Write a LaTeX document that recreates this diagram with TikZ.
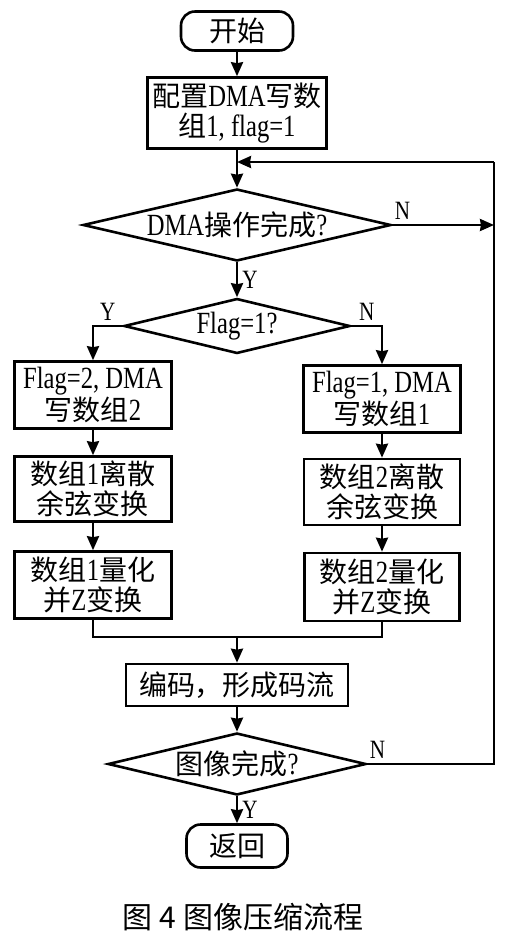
\documentclass[tikz,border=0pt]{standalone}
\usepackage{fontspec}
\setmainfont{Liberation Serif}[FakeStretch=0.8,Scale=1.1]
\newfontfamily\cjk{Noto Sans CJK SC}
\newcommand{\zh}[1]{{\cjk #1}}
\usetikzlibrary{shapes.geometric,math,arrows.meta}

\begin{document}
\begin{tikzpicture}
[x=0.5pt,y=-0.5pt,>={Stealth[length=7pt,width=6pt,inset=0.5pt]},line width=1.3pt,
font=\fontsize{14}{15}\selectfont,
box/.style={draw,rectangle,inner sep=1pt,align=center},
term/.style={draw,rectangle,rounded corners=7pt,inner sep=1pt},
test/.style={draw,diamond,inner sep=0pt},
yn/.style={font=\fontsize{12}{14}\selectfont,inner sep=2pt},]

\useasboundingbox (0,0) rectangle (511,944);

%Column positions: main, left branch, right branch, loop line
\tikzmath{\xm=237; \xl=93; \xr=382; \xo=494; }
%
%Main column
\node (start) at (\xm,31)[term,minimum width=56pt,minimum height=19.5pt] {\zh{开始}};
\node (cfg) at (\xm,113)[box,minimum width=89.5pt,minimum height=35.5pt] {\zh{配置}DMA\zh{写数}\\\zh{组}1, flag=1};
\node (dma) at (\xm,225)[test,aspect=4.28,minimum width=154pt,minimum height=36pt] {DMA\zh{操作完成}?};
\node (flag) at (\xm,326)[test,aspect=4.1,minimum width=113pt,minimum height=27.5pt] {Flag=1?};

%Left branch
\node (a1) at (\xl,395)[box,minimum width=78.5pt,minimum height=33.5pt] {Flag=2, DMA\\\zh{写数组}2};
\node (a2) at (\xl,489)[box,minimum width=78.5pt,minimum height=32.5pt] {\zh{数组}1\zh{离散}\\\zh{余弦变换}};
\node (a3) at (\xl,585)[box,minimum width=78.5pt,minimum height=33.5pt] {\zh{数组}1\zh{量化}\\\zh{并}Z\zh{变换}};

%Right branch
\node (b1) at (\xr,399)[box,minimum width=78.5pt,minimum height=33.5pt] {Flag=1, DMA\\\zh{写数组}1};
\node (b2) at (\xr,492)[box,minimum width=78pt,minimum height=33pt] {\zh{数组}2\zh{离散}\\\zh{余弦变换}};
\node (b3) at (\xr,587)[box,minimum width=77.5pt,minimum height=34pt] {\zh{数组}2\zh{量化}\\\zh{并}Z\zh{变换}};

%Bottom part
\node (enc) at (\xm,685)[box,minimum width=111pt,minimum height=21pt] {\zh{编码，形成码流}};
\node (img) at (\xm,764)[test,aspect=4.16,minimum width=129pt,minimum height=31pt] {\zh{图像完成}?};
\node (ret) at (\xm,846)[term,minimum width=50.5pt,minimum height=21.5pt] {\zh{返回}};
\node (cap) at (243,917)[font=\cjk\fontsize{15}{17}\selectfont] {图 4 图像压缩流程};

%Corner points
\coordinate (join) at (\xm,162);
\coordinate (merge) at (\xm,637);
\coordinate (ml) at (\xl,637);
\coordinate (mr) at (\xr,637);
\coordinate (lt) at (\xo,162);
\coordinate (lm) at (\xo,225);
\coordinate (lb) at (\xo,764);

%Connectors
\draw[->] (start) -- (cfg);
\draw[->] (cfg) -- (dma);
\draw[->] (dma) -- node[yn,right] {Y} (flag);
\draw[->] (dma.east) -- node[yn,pos=0.1,above] {N} (lm);
\draw[->] (flag.west) -| node[yn,pos=0.25,above] {Y} (a1);
\draw[->] (flag.east) -| node[yn,pos=0.25,above] {N} (b1);
\draw[->] (a1) -- (a2);
\draw[->] (a2) -- (a3);
\draw[->] (b1) -- (b2);
\draw[->] (b2) -- (b3);
\draw (a3) -- (ml) -- (mr) -- (b3);
\draw[->] (merge) -- (enc);
\draw[->] (enc) -- (img);
\draw[->] (img) -- node[yn,right] {Y} (ret);
\draw (img.east) -- node[yn,pos=0.08,above] {N} (lb) -- (lt);
\draw[->] (lt) -- (join);

\end{tikzpicture}
\end{document}
